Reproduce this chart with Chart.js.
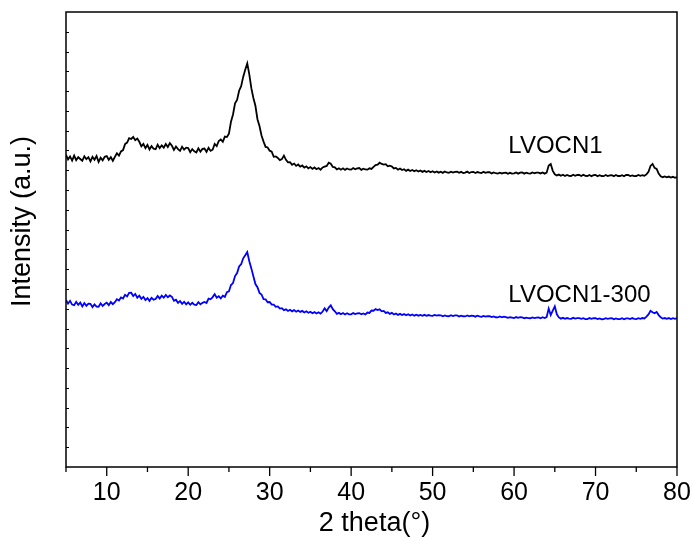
<!DOCTYPE html>
<html>
<head>
<meta charset="utf-8">
<script src="https://cdn.jsdelivr.net/npm/chart.js@4.4.0/dist/chart.umd.min.js"></script>
<style>
  html, body { margin: 0; padding: 0; background: #fff; }
  #c { display: block; }
</style>
</head>
<body>
<canvas id="c" width="694" height="541"></canvas>
<script>
// 2θ sampling grid (degrees)
const thetaStart = 5;
const thetaStep = 0.25;

// LVOCN1 (black) intensity, a.u., one value per 0.25°, 5°..80°
const lvocn1 = [
1578,1555,1570,1549, 1574,1551,1566,1557, 1548,1571,1556,1566, 1545,1568,1553,1572,
1542,1563,1550,1568, 1572,1553,1566,1548, 1568,1586,1574,1595, 1602,1632,1640,1662,
1658,1668,1652,1660, 1644,1621,1633,1612, 1628,1605,1622,1609, 1606,1629,1612,1626,
1614,1633,1618,1637, 1624,1603,1620,1607, 1598,1619,1604,1614, 1612,1591,1607,1596,
1590,1611,1594,1608, 1610,1593,1614,1598, 1604,1633,1622,1648, 1656,1644,1670,1668,
1685,1745,1782,1838, 1855,1902,1925,1972, 2008,2040,1985,1915, 1865,1826,1758,1724,
1676,1645,1618,1615, 1599,1594,1568,1570, 1562,1551,1556,1574, 1553,1540,1541,1528,
1534,1522,1529,1518, 1524,1513,1520,1510, 1516,1507,1514,1505, 1511,1503,1514,1518,
1522,1538,1533,1517, 1515,1504,1510,1503, 1510,1502,1509,1504, 1503,1511,1505,1509,
1511,1502,1508,1504, 1503,1510,1507,1517, 1526,1528,1538,1532, 1529,1531,1520,1523,
1519,1509,1512,1503, 1509,1501,1505,1497, 1503,1496,1501,1495, 1500,1494,1499,1492,
1497,1491,1496,1490, 1495,1489,1494,1488, 1493,1487,1494,1489, 1487,1493,1488,1492,
1493,1487,1492,1486, 1488,1493,1486,1491, 1492,1486,1491,1488, 1486,1492,1487,1490,
1490,1484,1489,1485, 1483,1488,1484,1487, 1488,1482,1487,1483, 1484,1489,1483,1488,
1489,1483,1488,1484, 1483,1489,1485,1488, 1488,1484,1489,1483, 1488,1524,1532,1497,
1480,1474,1478,1472, 1477,1471,1476,1472, 1471,1477,1472,1476, 1476,1471,1477,1472,
1471,1476,1470,1475, 1476,1470,1475,1471, 1470,1476,1471,1474, 1475,1470,1476,1471,
1471,1475,1470,1476, 1476,1471,1474,1470, 1471,1476,1472,1475, 1472,1479,1492,1522,
1532,1512,1507,1483, 1470,1465,1469,1464, 1468,1463,1467,1462, 1466
];

// LVOCN1-300 (blue) intensity, a.u., one value per 0.25°, 5°..80°
const lvocn1_300 = [
845,826,840,821, 818,835,820,831, 812,829,815,826, 825,808,822,811,
810,827,814,824, 831,818,834,823, 833,848,842,857, 852,870,862,880,
881,864,875,856, 866,850,860,844, 854,840,855,846, 849,864,852,866,
856,870,858,867, 860,840,846,830, 839,825,835,822, 832,820,830,821,
819,833,822,830, 834,829,851,848, 859,874,856,863, 852,866,860,884,
888,920,930,965, 980,1014,1025,1055, 1070,1086,1040,1004, 964,925,909,880,
872,849,848,833, 834,821,821,810, 812,801,803,793, 797,789,795,787,
793,785,791,784, 789,781,787,780, 785,777,783,776, 782,775,786,802,
788,806,817,798, 787,774,779,772, 778,771,777,772, 772,778,773,777,
778,772,776,771, 781,779,791,790, 798,793,797,787, 789,779,782,774,
779,771,776,769, 774,768,773,767, 772,766,771,765, 770,765,769,764,
769,764,768,765, 764,769,765,768, 767,762,766,763, 762,767,763,766,
766,761,765,762, 761,766,762,765, 764,760,765,761, 759,764,760,763,
762,758,761,757, 756,761,757,760, 758,754,757,755, 753,758,754,757,
756,752,755,753, 752,756,753,755, 756,752,757,753, 758,801,768,790,
812,772,756,750, 754,749,753,750, 749,754,750,753, 753,749,752,748,
748,753,749,752, 752,748,751,747, 748,752,749,751, 752,747,751,748,
748,752,747,751, 751,748,753,749, 748,752,749,753, 751,760,771,789,
782,777,784,768, 757,750,753,749, 753,748,752,749, 752
];

const seriesNames = ['LVOCN1', 'LVOCN1-300'];
const seriesColors = ['#000000', '#0000ff'];
const xTickLabels = [10, 20, 30, 40, 50, 60, 70, 80];
const xMin = 5, xMax = 80;
const yMin = 0, yMax = 2300, yMinorStep = 100;
const xTitle = '2 theta(\u00B0)';
const yTitle = 'Intensity (a.u.)';
// label anchor points in data coordinates [2θ, intensity]
const seriesLabelAt = [[59.3, 1589], [59.3, 832]];

const FONT = '"Liberation Sans", Arial, sans-serif';

function toPoints(arr) {
  return arr.map((v, i) => ({ x: thetaStart + i * thetaStep, y: v }));
}

const framePlugin = {
  id: 'framePlugin',
  afterDraw(chart) {
    const ctx = chart.ctx;
    const { left, right, top, bottom } = chart.chartArea;
    const xs = chart.scales.x, ys = chart.scales.y;
    ctx.save();
    ctx.strokeStyle = '#000';
    ctx.lineWidth = 1.5;
    ctx.strokeRect(left, top, right - left, bottom - top);
    // x ticks: major at labels, minor halfway (outward)
    ctx.lineWidth = 1.3;
    ctx.beginPath();
    for (let v = xMin; v <= xMax + 1e-9; v += 5) {
      const px = xs.getPixelForValue(v);
      const len = xTickLabels.includes(v) ? 9 : 5;
      ctx.moveTo(px, bottom);
      ctx.lineTo(px, bottom + len);
    }
    ctx.stroke();
    // y minor ticks (inward)
    ctx.lineWidth = 1;
    ctx.beginPath();
    for (let v = yMin + yMinorStep; v < yMax; v += yMinorStep) {
      const py = Math.round(ys.getPixelForValue(v)) + 0.5;
      ctx.moveTo(left, py);
      ctx.lineTo(left + 3, py);
    }
    ctx.stroke();
    // series labels
    ctx.fillStyle = '#000';
    ctx.font = '24px ' + FONT;
    ctx.textAlign = 'left';
    ctx.textBaseline = 'alphabetic';
    seriesNames.forEach((n, i) => {
      const [lx, ly] = seriesLabelAt[i];
      ctx.fillText(n, xs.getPixelForValue(lx), ys.getPixelForValue(ly));
    });
    // x title
    ctx.font = '27px ' + FONT;
    ctx.textAlign = 'center';
    ctx.fillText(xTitle, (left + right) / 2 + 3, 531);
    // y title
    ctx.translate(23, 221.5);
    ctx.rotate(-Math.PI / 2);
    ctx.font = '27px ' + FONT;
    ctx.textAlign = 'center';
    ctx.textBaseline = 'middle';
    ctx.fillText(yTitle, 0, 0);
    ctx.restore();
  }
};

new Chart(document.getElementById('c'), {
  type: 'line',
  data: {
    datasets: [
      { label: seriesNames[0], data: toPoints(lvocn1), borderColor: seriesColors[0], borderWidth: 1.8, pointRadius: 0, tension: 0, fill: false },
      { label: seriesNames[1], data: toPoints(lvocn1_300), borderColor: seriesColors[1], borderWidth: 1.8, pointRadius: 0, tension: 0, fill: false }
    ]
  },
  options: {
    responsive: false,
    animation: false,
    devicePixelRatio: 1,
    layout: { padding: { top: 12, right: 17, left: 0, bottom: 0 } },
    plugins: { legend: { display: false }, tooltip: { enabled: false } },
    scales: {
      x: {
        type: 'linear',
        min: xMin, max: xMax,
        afterBuildTicks: s => { s.ticks = xTickLabels.map(v => ({ value: v })); },
        afterFit: s => { s.height = 74; s.paddingLeft = 0; s.paddingRight = 0; },
        grid: { display: false, drawTicks: false },
        border: { display: false },
        ticks: { color: '#000', font: { family: FONT, size: 25 }, padding: 11, maxRotation: 0, autoSkip: false }
      },
      y: {
        type: 'linear',
        min: yMin, max: yMax,
        afterFit: s => { s.width = 66; s.paddingTop = 0; s.paddingBottom = 0; },
        grid: { display: false, drawTicks: false },
        border: { display: false },
        ticks: { display: false }
      }
    }
  },
  plugins: [framePlugin]
});
</script>
</body>
</html>
